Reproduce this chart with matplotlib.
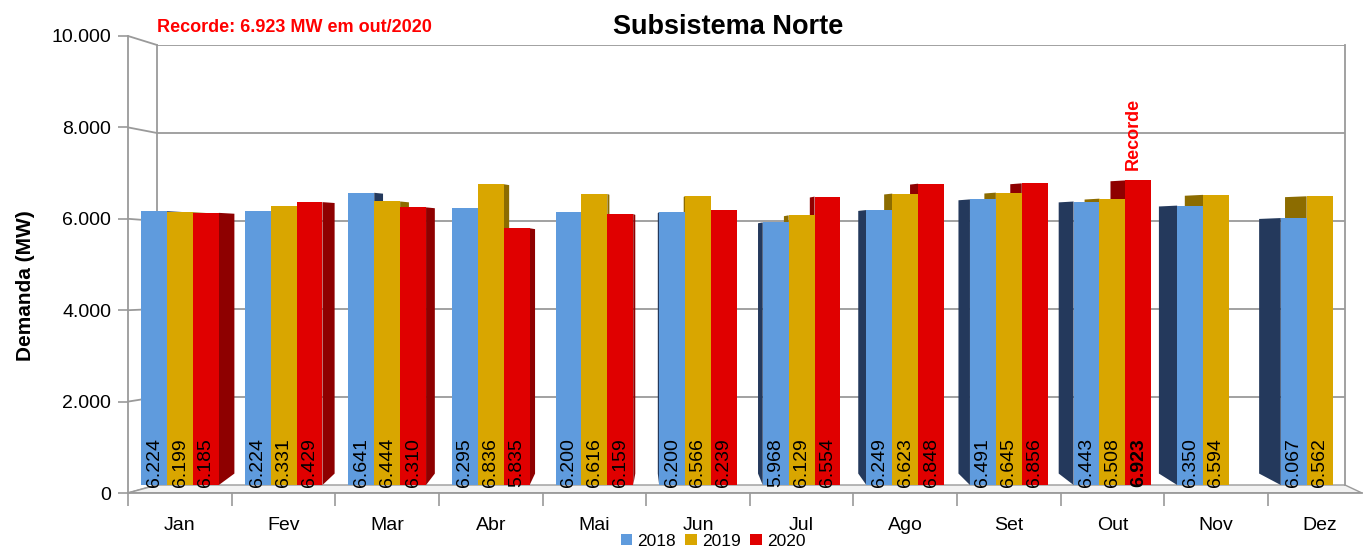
import matplotlib
matplotlib.use("Agg")
import matplotlib.pyplot as plt
import numpy as np
from matplotlib import font_manager
from matplotlib.patches import Polygon, ConnectionPatch

months = ["Jan", "Fev", "Mar", "Abr", "Mai", "Jun", "Jul", "Ago", "Set", "Out", "Nov", "Dez"]
years = ["2018", "2019", "2020"]
v2018 = [6224, 6224, 6641, 6295, 6200, 6200, 5968, 6249, 6491, 6443, 6350, 6067]
v2019 = [6199, 6331, 6444, 6836, 6616, 6566, 6129, 6623, 6645, 6508, 6594, 6562]
v2020 = [6185, 6429, 6310, 5835, 6159, 6239, 6554, 6848, 6856, 6923, None, None]
yticks = [0, 2000, 4000, 6000, 8000, 10000]
ytick_labels = ["0", "2.000", "4.000", "6.000", "8.000", "10.000"]

names = {f.name for f in font_manager.fontManager.ttflist}
narrow = "Liberation Sans Narrow" if "Liberation Sans Narrow" in names else "Liberation Sans"
plt.rcParams['font.family'] = [narrow, 'DejaVu Sans']
ARIAL = ["Liberation Sans", "DejaVu Sans"]

colors = ["#5F9BDD", "#D9A600", "#E00000"]
dark = ["#24395C", "#8C6C00", "#8E0000"]
series = [v2018, v2019, v2020]
GRID = "#9A9A9A"

W, H = 1364, 552
fig = plt.figure(figsize=(W / 100, H / 100), dpi=100)

def box(x0, x1, ytop, ybot):
    return [x0 / W, 1 - ybot / H, (x1 - x0) / W, (ybot - ytop) / H]

# unit / offset of the category scale (pixels)
ux, cx0 = 103.6, 180.0
def xl(px):
    return (px - cx0) / ux

# front axes (tick labels, front edges)
ax = fig.add_axes(box(128, 1364, 36, 493))
ax.set_facecolor("none")
# back wall axes (bars, gridlines)
axb = fig.add_axes(box(157, 1345, 45, 485))
axb.set_facecolor("none")
axb.set_zorder(ax.get_zorder() + 1)

x = np.arange(len(months))
w = 0.25
offs = [-w, 0, w]

# floor (in front-axes data coordinates)
floor_back_y = (493 - 485) / 457 * 10000
floor = Polygon([(xl(128), 0), (xl(1362), 0), (xl(1345), floor_back_y), (xl(157), floor_back_y)],
                closed=True, facecolor="#F2F2F2", edgecolor=GRID, linewidth=1.0, zorder=0)
ax.add_patch(floor)

# back wall grid
for t in yticks[1:]:
    axb.axhline(t, color=GRID, linewidth=1.3, zorder=0)
for sp in ["top", "bottom"]:
    axb.spines[sp].set_visible(False)
for sp in ["left", "right"]:
    axb.spines[sp].set_color(GRID)
    axb.spines[sp].set_linewidth(1.3)
axb.set_xticks([])
axb.set_yticks([])

# slanted connectors left wall
for t in yticks:
    con = ConnectionPatch(xyA=(xl(128), t), coordsA=ax.transData,
                          xyB=(xl(157), t), coordsB=axb.transData,
                          color=GRID, linewidth=1.3, zorder=0)
    fig.add_artist(con)

# bars with side faces
dy_bot, dy_top = 260, -20
for k, (vals, c, dc, yr) in enumerate(zip(series, colors, dark, years)):
    arr = np.array([np.nan if v is None else v for v in vals], dtype=float)
    bars = axb.bar(x + offs[k], arr, width=w, color=c, edgecolor="none", label=yr, zorder=3)
    for b in bars:
        b.set_clip_on(False)
    for i, v in enumerate(vals):
        if v is None:
            continue
        dx = 0.15 * (4.6 - i) / 4.6
        xc = x[i] + offs[k]
        edge = xc + w / 2 if dx > 0 else xc - w / 2
        side = Polygon([(edge, 0), (edge, v), (edge + dx, v + dy_top), (edge + dx, dy_bot)],
                       closed=True, facecolor=dc, edgecolor="none", zorder=2, clip_on=False)
        axb.add_patch(side)
        s = f"{v/1000:.3f}"
        bold = (yr == "2020" and months[i] == "Out")
        axb.text(xc, -40, s, rotation=90, ha="center", va="bottom",
                 fontsize=14, color="black", fontweight="bold" if bold else "normal", zorder=5)

axb.text(x[9] + offs[2] - 0.045, 7150, "Recorde", rotation=90, ha="center", va="bottom",
         fontsize=13, color="#FF0000", fontweight="bold", family=ARIAL)

axb.set_xlim(xl(157), xl(1345))
axb.set_ylim(0, 10000)

# front axes setup
ax.set_xticks(x)
ax.set_xticklabels(months, fontsize=14)
ax.set_xticks(np.arange(-0.5, 11.0, 1), minor=True)
ax.tick_params(axis="x", length=0, pad=17)
ax.tick_params(axis="x", which="minor", length=9, color=GRID, width=1.2)
ax.set_yticks(yticks)
ax.set_yticklabels(ytick_labels, fontsize=14)
ax.tick_params(axis="y", length=7, color=GRID, width=1.2, pad=5)
ax.set_xlim(xl(128), xl(1364))
ax.set_ylim(0, 10000)
for sp in ["top", "right"]:
    ax.spines[sp].set_visible(False)
ax.spines["left"].set_color(GRID)
ax.spines["left"].set_linewidth(1.3)
ax.spines["bottom"].set_visible(False)
ax.plot([xl(128), xl(1362)], [0, 0], color=GRID, linewidth=1.3, clip_on=False, zorder=1)

ax.set_ylabel("Demanda (MW)", fontsize=15, fontweight="bold", family=ARIAL)
ax.yaxis.set_label_coords((35 - 128) / (1364 - 128), (493 - 286) / 457)

fig.text(728 / W, 1 - 27 / H, "Subsistema Norte", ha="center", va="center",
         fontsize=19.5, fontweight="bold", family=ARIAL)
fig.text(157 / W, 1 - 27 / H, "Recorde: 6.923 MW em out/2020", ha="left", va="center",
         fontsize=13, fontweight="bold", color="#FF0000", family=ARIAL)

handles, labels = axb.get_legend_handles_labels()
fig.legend(handles, labels, loc="center", bbox_to_anchor=(713 / W, 1 - 541 / H), ncol=3, frameon=False,
           fontsize=12.5, handlelength=0.65, handleheight=0.65, handletextpad=0.3,
           columnspacing=0.55, borderpad=0)

fig.savefig("out.png", dpi=100)
